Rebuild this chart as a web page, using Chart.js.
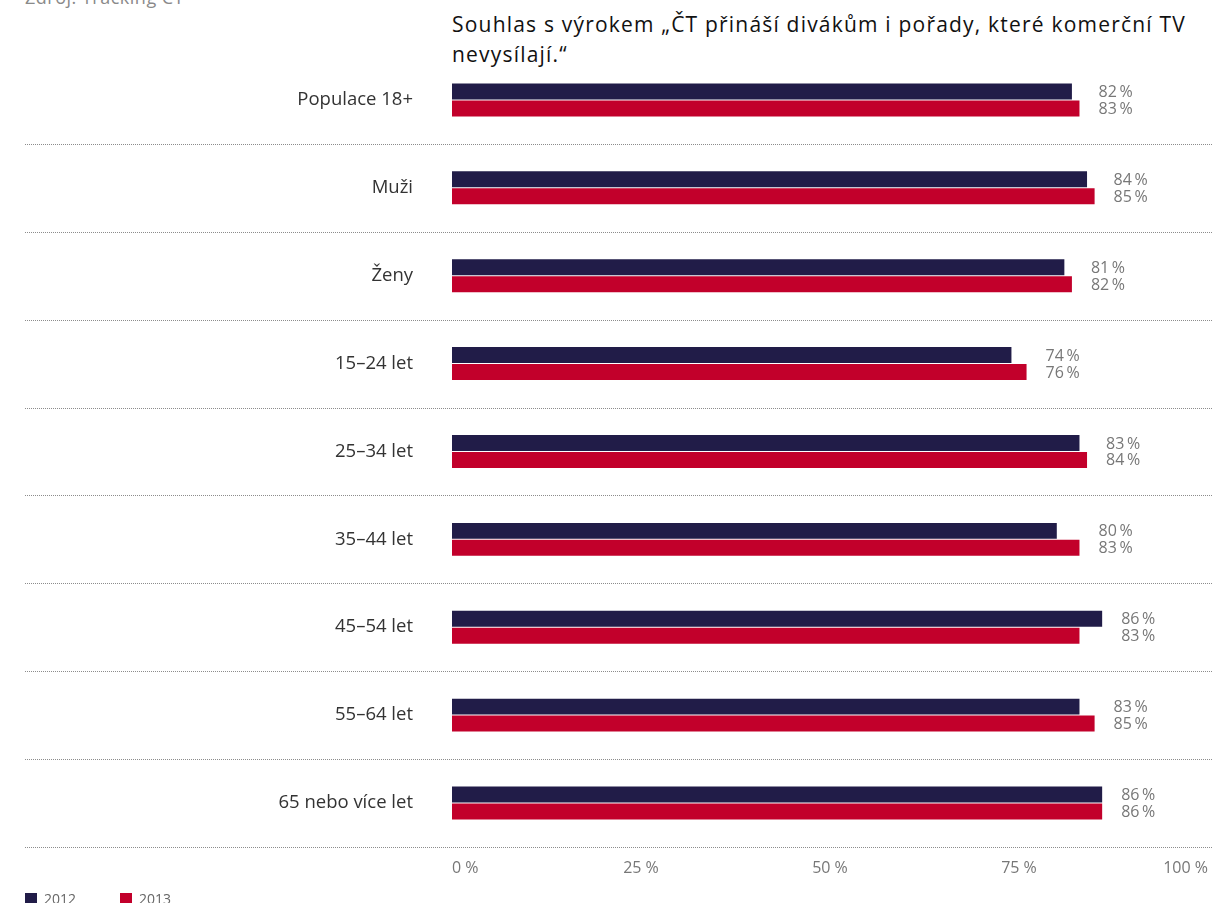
<!DOCTYPE html>
<html lang="cs">
<head>
<meta charset="utf-8">
<title>Souhlas s výrokem</title>
<script src="https://cdn.jsdelivr.net/npm/chart.js@4"></script>
<style>
    html, body { margin: 0; padding: 0; background: #fff; }
    body { width: 1212px; height: 903px; overflow: hidden; position: relative; font-family: "Open Sans", sans-serif; }
    #source { position: absolute; left: 25px; top: -15px; font-size: 18px; letter-spacing: 0.5px; color: #8a8a8a; }
    #title { position: absolute; left: 452px; top: 9px; width: 760px; font-size: 21px; letter-spacing: 1.2px; line-height: 30px; color: #111; }
    #chartBox { position: absolute; left: 0; top: 0; width: 1212px; height: 897px; }
    #legend { position: absolute; left: 25px; top: 889px; font-size: 14px; color: #666; }
    #legend span.item { display: inline-block; margin-right: 44px; }
    #legend span.box { display: inline-block; width: 12px; height: 12px; margin-right: 7px; vertical-align: -1px; }
</style>
</head>
<body>
<div id="source">Zdroj: Tracking ČT</div>
<div id="title">Souhlas s výrokem „ČT přináší divákům i pořady, které komerční TV nevysílají.“</div>
<div id="chartBox"><canvas id="chart"></canvas></div>
<div id="legend"></div>
<script>
const categories = ['Populace 18+', 'Muži', 'Ženy', '15–24 let', '25–34 let', '35–44 let', '45–54 let', '55–64 let', '65 nebo více let'];
const values2012 = [82, 84, 81, 74, 83, 80, 86, 83, 86];
const values2013 = [83, 85, 82, 76, 84, 83, 83, 85, 86];
const seriesNames = ['2012', '2013'];
const xTicks = [0, 25, 50, 75, 100];

const colors = ['#211c48', '#c2002b'];

// tečkované oddělovače řádků
const separatorPlugin = {
    id: 'separators',
    afterDraw(chart) {
        const ctx = chart.ctx;
        const yScale = chart.scales.y;
        const n = categories.length;
        ctx.save();
        ctx.strokeStyle = '#8c8c8c';
        ctx.lineWidth = 1;
        ctx.setLineDash([1, 1]);
        for (let i = 0; i < n; i++) {
            let y;
            if (i < n - 1) {
                y = (yScale.getPixelForValue(i) + yScale.getPixelForValue(i + 1)) / 2;
            } else {
                y = chart.chartArea.bottom;
            }
            y = Math.round(y) + 0.5;
            ctx.beginPath();
            ctx.moveTo(yScale.left, y);
            ctx.lineTo(chart.width, y);
            ctx.stroke();
        }
        ctx.restore();
    }
};

// popisky hodnot vpravo od skupiny
const valueLabelPlugin = {
    id: 'valueLabels',
    afterDatasetsDraw(chart) {
        const ctx = chart.ctx;
        const metas = [chart.getDatasetMeta(0), chart.getDatasetMeta(1)];
        ctx.save();
        ctx.font = '16px "Open Sans"';
        ctx.fillStyle = '#777';
        ctx.textAlign = 'left';
        ctx.textBaseline = 'middle';
        categories.forEach((c, i) => {
            const x = Math.max(metas[0].data[i].x, metas[1].data[i].x) + 19;
            metas.forEach((meta, d) => {
                const val = chart.data.datasets[d].data[i];
                ctx.fillText(val + '\u2009%', x, meta.data[i].y + 1);
            });
        });
        ctx.restore();
    }
};

new Chart(document.getElementById('chart'), {
    type: 'bar',
    data: {
        labels: categories,
        datasets: [{
            label: seriesNames[0],
            data: values2012,
            backgroundColor: colors[0],
            categoryPercentage: 0.386,
            barPercentage: 0.94
        }, {
            label: seriesNames[1],
            data: values2013,
            backgroundColor: colors[1],
            categoryPercentage: 0.386,
            barPercentage: 0.94
        }]
    },
    options: {
        indexAxis: 'y',
        responsive: true,
        maintainAspectRatio: false,
        animation: false,
        layout: {
            padding: { top: 56, left: 25, right: 0, bottom: 0 }
        },
        plugins: {
            legend: { display: false },
            tooltip: { enabled: false }
        },
        scales: {
            x: {
                min: 0,
                max: 100,
                afterBuildTicks: function(scale) {
                    scale.ticks = xTicks.map(v => ({ value: v }));
                },
                afterFit: function(scale) {
                    scale.height = 37;
                },
                grid: { display: false },
                border: { display: false },
                ticks: {
                    align: 'inner',
                    padding: 4,
                    color: '#777',
                    font: { family: 'Open Sans', size: 16 },
                    callback: function(value) {
                        return value + ' %';
                    }
                }
            },
            y: {
                afterFit: function(scale) {
                    scale.width = 452 - 25;
                },
                grid: { display: false, drawTicks: false },
                border: { display: false },
                ticks: {
                    padding: 39,
                    color: '#333',
                    font: { family: 'Open Sans', size: 18.5 }
                }
            }
        }
    },
    plugins: [separatorPlugin, valueLabelPlugin]
});

// legenda
const legend = document.getElementById('legend');
seriesNames.forEach((name, i) => {
    const item = document.createElement('span');
    item.className = 'item';
    item.innerHTML = '<span class="box" style="background:' + colors[i] + '"></span>' + name;
    legend.appendChild(item);
});
</script>
</body>
</html>
